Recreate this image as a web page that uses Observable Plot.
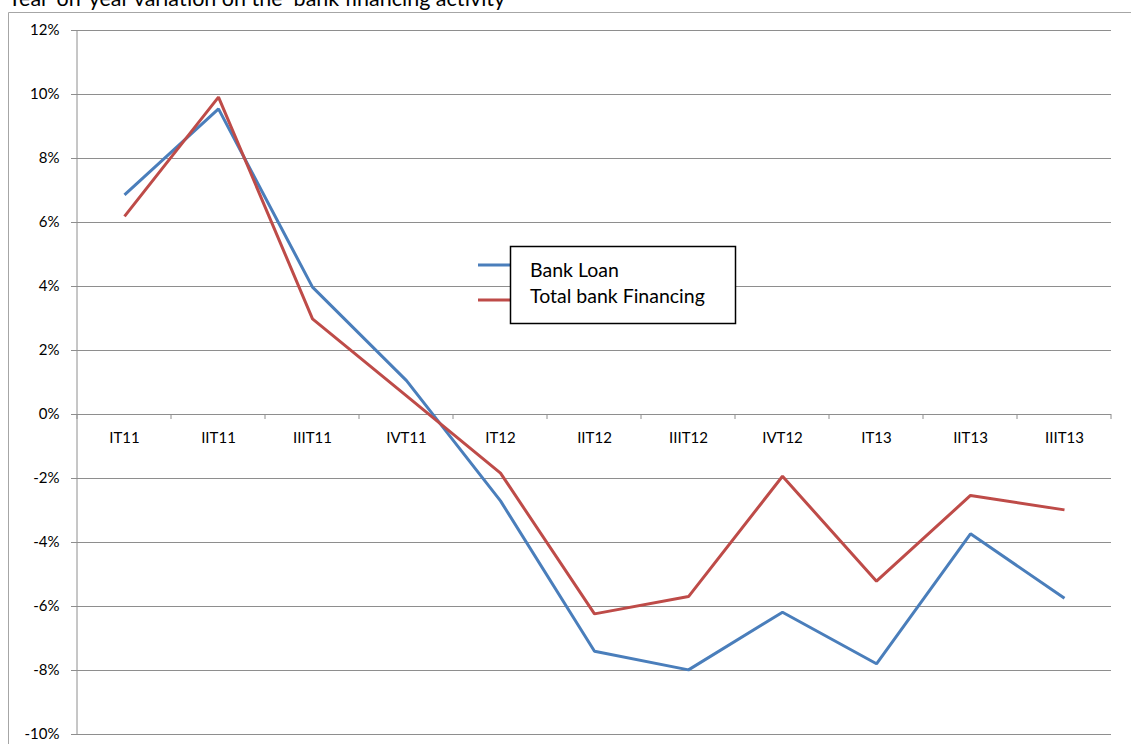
<!DOCTYPE html>
<html><head><meta charset="utf-8">
<script src="https://cdn.jsdelivr.net/npm/d3@7"></script>
<script src="https://cdn.jsdelivr.net/npm/@observablehq/plot@0.6"></script>
<style>body{margin:0;background:#fff;overflow:hidden} svg{display:block}</style>
</head><body><div id="chart"></div>
<script>
const titleText = "Year-on-year variation on the  bank financing activity";
const quarters = ["IT11","IIT11","IIIT11","IVT11","IT12","IIT12","IIIT12","IVT12","IT13","IIT13","IIIT13"];
const bankLoan = [6.86, 9.55, 3.98, 1.06, -2.70, -7.40, -7.98, -6.18, -7.79, -3.73, -5.74];
const totalFinancing = [6.19, 9.92, 2.99, 0.58, -1.83, -6.23, -5.69, -1.93, -5.21, -2.53, -2.98];
const seriesNames = ["Bank Loan", "Total bank Financing"];
const seriesColors = ["#4a7ebb", "#be4b48"];
const yTicks = [-10, -8, -6, -4, -2, 0, 2, 4, 6, 8, 10, 12];

const rows = [];
quarters.forEach((q, i) => {
  rows.push({quarter: q, series: seriesNames[0], value: bankLoan[i]});
});
quarters.forEach((q, i) => {
  rows.push({quarter: q, series: seriesNames[1], value: totalFinancing[i]});
});

const gridColor = "#8e8e8e";
const font = "Lato, 'Open Sans', sans-serif";

const chart = Plot.plot({
  width: 1131, height: 744,
  marginTop: 30, marginLeft: 76, marginRight: 20, marginBottom: 10,
  style: {fontFamily: font, fontSize: "15px", color: "#000", background: "#fff", overflow: "visible"},
  x: {domain: quarters, type: "point", padding: 0.5, axis: null},
  y: {domain: [-10, 12], axis: null},
  color: {domain: seriesNames, range: seriesColors},
  marks: [
    Plot.gridY(yTicks, {stroke: gridColor, strokeOpacity: 1}),
    Plot.axisY(yTicks, {tickSize: 5, tickPadding: 12, tickFormat: d => d + "%", stroke: gridColor, fontSize: 15, fill: "#000", label: null}),
    Plot.ruleY([0], {stroke: gridColor}),
    Plot.text(quarters, {x: d => d, y: 0, dy: 24, text: d => d, fontSize: 15, fill: "#000"}),
    Plot.line(rows, {x: "quarter", y: "value", stroke: "series", z: "series", strokeWidth: 3, strokeLinejoin: "miter", strokeLinecap: "butt"})
  ]
});

const svg = d3.select(chart);
const xs = chart.scale("x"), ys = chart.scale("y");
const step = xs.apply(quarters[1]) - xs.apply(quarters[0]);
const left = xs.apply(quarters[0]) - step / 2;
const y0 = ys.apply(0);

// left axis line
svg.append("line").attr("x1", left).attr("x2", left)
  .attr("y1", ys.apply(12)).attr("y2", ys.apply(-10))
  .attr("stroke", gridColor);
// category boundary ticks
for (let i = 0; i <= quarters.length; i++) {
  const x = left + i * step;
  svg.append("line").attr("x1", x).attr("x2", x).attr("y1", y0).attr("y2", y0 + 5).attr("stroke", gridColor);
}
// outer frame
svg.append("path").attr("d", "M8.5,744 L8.5,12.5 L1131,12.5").attr("fill", "none").attr("stroke", "#a6a6a6");
// title (cut off at top, as in the source)
svg.append("text").attr("x", 8).attr("y", 6).attr("font-family", font).attr("font-size", 21.5)
  .attr("text-anchor", "start").style("white-space", "pre").attr("fill", "#000").text(titleText);

// legend
const lg = svg.append("g");
[265, 300].forEach((ly, i) => {
  lg.append("line").attr("x1", 478).attr("x2", 512).attr("y1", ly).attr("y2", ly)
    .attr("stroke", seriesColors[i]).attr("stroke-width", 3);
});
lg.append("rect").attr("x", 510.5).attr("y", 246.5).attr("width", 225).attr("height", 77)
  .attr("fill", "#fff").attr("stroke", "#000").attr("stroke-width", 1.5);
seriesNames.forEach((name, i) => {
  lg.append("text").attr("x", 530).attr("y", 277 + i * 26).attr("font-family", font)
    .attr("font-size", 19.5).attr("text-anchor", "start").attr("fill", "#000").text(name);
});

document.getElementById("chart").appendChild(chart);
</script>
</body></html>
